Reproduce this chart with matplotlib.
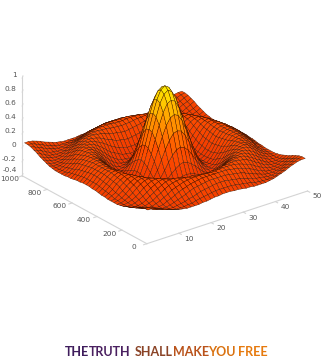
import numpy as np
import matplotlib
matplotlib.use("Agg")
import matplotlib.pyplot as plt
from matplotlib.colors import LinearSegmentedColormap
from mpl_toolkits.mplot3d import proj3d

# heights, one octant (centre to corner), it is symmetric
z_rows = [
    [1.00],
    [.96, .92],
    [.84, .81, .70],
    [.66, .63, .54, .40],
    [.45, .43, .35, .24, .11],
    [.24, .22, .16, .08, -.02, -.11],
    [.05, .03, -.01, -.06, -.12, -.18, -.21],
    [-.10, -.11, -.13, -.16, -.19, -.21, -.22, -.20],
    [-.19, -.19, -.20, -.21, -.22, -.21, -.19, -.15, -.10],
    [-.22, -.22, -.22, -.21, -.20, -.18, -.14, -.10, -.04, .01],
    [-.19, -.19, -.18, -.17, -.14, -.11, -.08, -.03, .02, .06, .10],
    [-.13, -.13, -.11, -.10, -.07, -.04, .00, .04, .07, .10, .12, .13],
    [-.05, -.04, -.03, -.02, .01, .03, .06, .09, .11, .12, .13, .12, .09],
    [.03, .04, .05, .06, .07, .09, .11, .12, .13, .13, .12, .09, .06, .02],
    [.09, .10, .10, .11, .12, .12, .13, .13, .12, .11, .09, .06, .02, -.01, -.05],
    [.12, .12, .13, .13, .13, .13, .12, .11, .09, .07, .05, .01, -.02, -.05, -.07, -.09],
    [.12, .12, .12, .12, .11, .10, .09, .07, .05, .03, .00, -.03, -.05, -.08, -.09, -.09, -.08],
    [.09, .09, .09, .08, .07, .06, .05, .03, .00, -.02, -.04, -.06, -.08, -.09, -.09, -.08, -.07, -.04],
    [.05, .05, .04, .03, .02, .01, -.01, -.03, -.04, -.06, -.07, -.08, -.09, -.09, -.08, -.06, -.04, -.01, .01],
    [-.01, -.01, -.01, -.02, -.03, -.04, -.05, -.06, -.08, -.08, -.09, -.09, -.09, -.08, -.06, -.04, -.01, .01, .04, .06],
    [-.05, -.05, -.06, -.06, -.07, -.08, -.08, -.09, -.09, -.09, -.09, -.08, -.07, -.05, -.03, -.01, .02, .04, .06, .07, .07],
]
x_ticks = [10, 20, 30, 40, 50]
y_ticks = [0, 200, 400, 600, 800, 1000]
z_ticks = [-0.4, -0.2, 0, 0.2, 0.4, 0.6, 0.8, 1]
title_words = ["THE", "TRUTH", "SHALL", "MAKE", "YOU", "FREE"]
title_colors = ["#3f1d5c", "#4a2060", "#8a4326", "#b9521a", "#d9710f", "#e67a0e"]
title_x = [65, 89, 135, 173, 208, 238]

# unfold octant to the whole grid
n = len(z_rows)
quad = np.zeros((n, n))
for i, row in enumerate(z_rows):
    for j, v in enumerate(row):
        quad[i, j] = v
        quad[j, i] = v
top = np.hstack([quad[:, :0:-1], quad])
Z = np.vstack([top[:0:-1], top])

x = np.linspace(0.5, 49.5, Z.shape[1])
y = np.linspace(5, 995, Z.shape[0])
X, Y = np.meshgrid(x, y)

fig = plt.figure(figsize=(3.29, 3.6), dpi=100)
ax = fig.add_axes([-4 / 329, 0.164, 1, 0.9], projection="3d")
ax.set_proj_type("ortho")
ax.view_init(elev=25, azim=-127.8)
ax.set_box_aspect((1, 1, 0.53), zoom=0.92)
ax.set_xlim(0, 50)
ax.set_ylim(0, 1000)
ax.set_zlim(-0.4, 1)
ax.set_axis_off()

surf_cmap = LinearSegmentedColormap.from_list("surf", ["#f03800", "#ff5000", "#ff9a00", "#fff000"])
ax.plot_surface(X, Y, Z, rstride=1, cstride=1, cmap=surf_cmap, vmin=-0.2, vmax=1.0,
                edgecolor="#301000", linewidth=0.25, antialiased=True, shade=True)

grey = "#d4d4d4"
txt = "#555555"


# tick labels go in as plain 2d text at the projected spot
def label(xv, yv, zv, s, ha="center"):
    px, py, _ = proj3d.proj_transform(xv, yv, zv, ax.get_proj())
    ax.text2D(px, py, s, transform=ax.transData, fontsize=5.3, color=txt, ha=ha, va="center")


ax.plot([0, 50], [0, 0], [-0.4, -0.4], color=grey, lw=0.8)
ax.plot([0, 0], [0, 1000], [-0.4, -0.4], color=grey, lw=0.8)
ax.plot([0, 0], [1000, 1000], [-0.4, 1], color=grey, lw=0.8)

for t in x_ticks:
    ax.plot([t, t], [0, -18], [-0.4, -0.4], color=grey, lw=0.8)
    label(t, -80, -0.4, str(t))
for t in y_ticks:
    ax.plot([0, -1], [t, t], [-0.4, -0.4], color=grey, lw=0.8)
    label(-4.0, t, -0.39, str(t))
for t in z_ticks:
    ax.plot([0, 0.9], [1000, 1018], [t, t], color=grey, lw=0.8)
    nudge = 0.05 if t < -0.3 else 0.012  # keep -0.4 clear of the 1000 label
    label(-0.2, 1040, t + nudge, "%g" % t, ha="right")

for w, c, px in zip(title_words, title_colors, title_x):
    fig.text(px / 329, 1 - 352 / 360, w, color=c, fontsize=9, fontweight="bold",
             family="Lato", va="center", ha="left")

fig.savefig("out.png", dpi=100)
